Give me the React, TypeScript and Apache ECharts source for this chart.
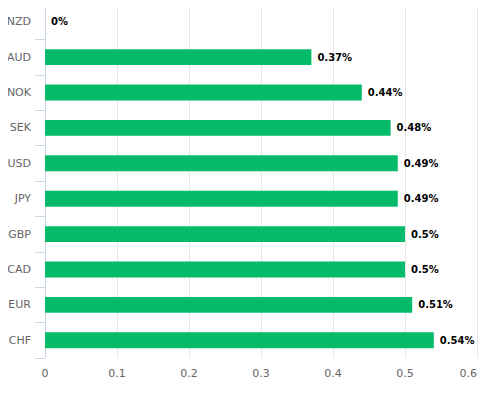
import React, { useEffect, useRef } from "react";
import * as echarts from "echarts";

const categories = ["NZD", "AUD", "NOK", "SEK", "USD", "JPY", "GBP", "CAD", "EUR", "CHF"];
const values = [0, 0.37, 0.44, 0.48, 0.49, 0.49, 0.5, 0.5, 0.51, 0.54];

export default function App() {
  const ref = useRef<HTMLDivElement>(null);
  useEffect(() => {
    const chart = echarts.init(ref.current!, null, { renderer: "svg" });
    chart.setOption({
      animation: false,
      grid: { left: 45, right: 15, top: 4, bottom: 35, containLabel: false },
      xAxis: {
        type: "value",
        min: 0,
        max: 0.6,
        interval: 0.1,
        axisLine: { show: false },
        axisTick: { show: false },
        splitLine: { show: true, lineStyle: { color: "#e6e6e6", width: 1 } },
        axisLabel: {
          color: "#666",
          fontSize: 11,
          fontFamily: "DejaVu Sans",
          margin: 10,
          alignMaxLabel: "right",
        },
      },
      yAxis: {
        type: "category",
        data: categories,
        inverse: true,
        axisLine: { show: true, lineStyle: { color: "#ccd6eb" } },
        axisTick: { show: true, length: 10, lineStyle: { color: "#ccd6eb" } },
        axisLabel: { color: "#666", fontSize: 11, fontFamily: "DejaVu Sans", margin: 14 },
        splitLine: { show: false },
      },
      series: [
        {
          type: "bar",
          data: values,
          barCategoryGap: "55%",
          itemStyle: { color: "#05bb6a" },
          label: {
            show: true,
            position: "right",
            distance: 6,
            formatter: (p: any) => `${p.value}%`,
            color: "#000",
            fontWeight: "bold",
            fontSize: 10,
            fontFamily: "DejaVu Sans",
          },
        },
      ],
    });
    return () => chart.dispose();
  }, []);
  return <div ref={ref} style={{ width: 492, height: 393, marginLeft: -8, marginTop: -8 }} />;
}
